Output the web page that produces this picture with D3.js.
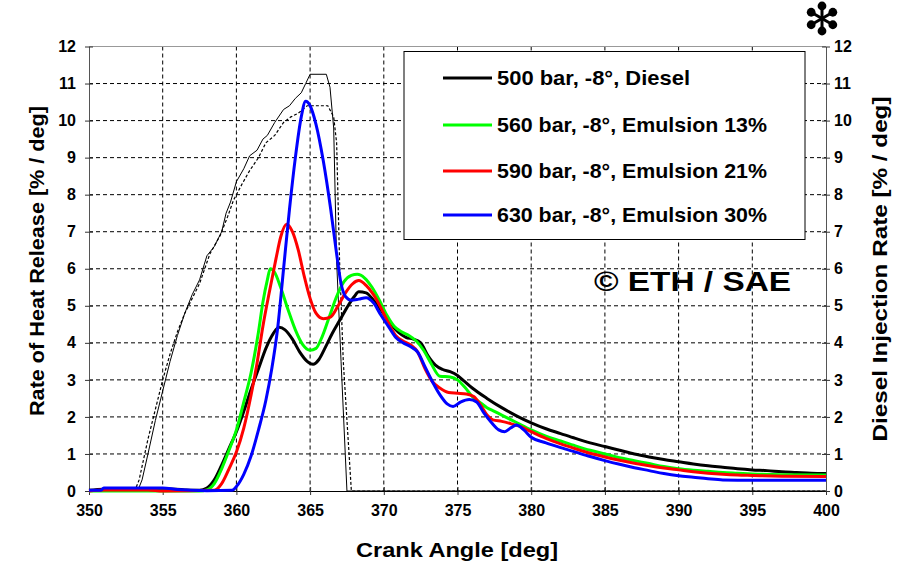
<!DOCTYPE html>
<html>
<head>
<meta charset="utf-8">
<script src="https://cdn.jsdelivr.net/npm/d3@7"></script>
<style>
  body { margin: 0; background: #fff; }
  svg { display: block; font-family: "Liberation Sans", Arial, sans-serif; font-weight: bold; }
</style>
</head>
<body>
<div id="chart"></div>
<script>
// x ticks and y ticks
const xTicks = [350, 355, 360, 365, 370, 375, 380, 385, 390, 395, 400];
const yTicks = [0, 1, 2, 3, 4, 5, 6, 7, 8, 9, 10, 11, 12];

// legend entries
const seriesNames = ["500 bar, -8°, Diesel", "560 bar, -8°, Emulsion 13%", "590 bar, -8°, Emulsion 21%", "630 bar, -8°, Emulsion 30%"];
const seriesColors = ["#000000", "#00ff00", "#ff0000", "#0000ff"];

// heat release rate [angle, % / deg]
const diesel = [[350,0.02],[351,0.05],[355,0.06],[356.5,0.03],[357.5,0.02],[358,0.08],[358.5,0.3],[359,0.7],[359.5,1.15],[360,1.6],[360.5,2.15],[361,2.75],[361.5,3.3],[362,3.85],[362.5,4.25],[362.9,4.42],[363.3,4.35],[363.8,4.1],[364.3,3.75],[364.8,3.5],[365.2,3.42],[365.6,3.55],[366,3.85],[366.5,4.25],[367,4.6],[367.5,4.95],[368,5.25],[368.3,5.38],[368.8,5.35],[369.3,5.15],[370,4.78],[370.5,4.5],[371,4.28],[371.5,4.15],[372,4.1],[372.5,4.0],[373,3.65],[373.5,3.4],[374,3.28],[374.5,3.22],[375,3.12],[375.5,2.95],[376,2.78],[377,2.5],[378,2.25],[379,2.03],[380,1.84],[381,1.68],[382,1.55],[383,1.42],[384,1.3],[385,1.2],[386,1.1],[387,1.0],[388,0.92],[389,0.85],[390,0.79],[391,0.73],[392,0.68],[393,0.64],[394,0.6],[395,0.57],[396,0.55],[397,0.52],[398,0.5],[399,0.48],[400,0.47]];

const emulsion13 = [[350,0],[357.5,0],[358,0.03],[358.5,0.2],[359,0.6],[359.5,1.1],[360,1.65],[360.5,2.4],[361,3.2],[361.5,4.3],[361.8,5.1],[362.1,5.7],[362.3,6.0],[362.6,5.9],[363,5.5],[363.5,4.9],[364,4.35],[364.5,3.95],[365,3.8],[365.4,3.85],[365.8,4.15],[366.3,4.7],[366.8,5.25],[367.3,5.65],[367.8,5.82],[368.2,5.85],[368.7,5.75],[369.2,5.5],[369.7,5.15],[370.2,4.75],[370.7,4.45],[371.2,4.3],[371.7,4.2],[372.2,4.05],[372.7,3.8],[373.2,3.45],[373.8,3.1],[374.5,3.08],[375,3.0],[375.5,2.8],[376,2.55],[376.5,2.4],[377,2.25],[377.5,2.15],[378,2.05],[379,1.85],[380,1.65],[381,1.48],[382,1.35],[383,1.22],[384,1.1],[385,1.0],[386,0.9],[387,0.82],[388,0.74],[389,0.66],[390,0.6],[391,0.56],[392,0.53],[393,0.5],[394,0.48],[395,0.46],[397,0.44],[400,0.43]];

const emulsion21 = [[350,0],[351,0.03],[354,0.03],[355,0],[358.5,0.02],[359,0.2],[359.5,0.6],[360,1.05],[360.5,1.7],[361,2.6],[361.4,3.45],[361.8,4.45],[362.3,5.5],[362.7,6.3],[363,6.85],[363.4,7.2],[363.8,7.0],[364.2,6.5],[364.6,5.8],[365,5.2],[365.4,4.8],[365.9,4.65],[366.4,4.7],[366.9,5.0],[367.4,5.35],[367.9,5.6],[368.3,5.68],[368.8,5.55],[369.3,5.3],[369.8,4.95],[370.3,4.55],[370.8,4.2],[371.3,4.05],[371.8,3.95],[372.3,3.75],[372.8,3.3],[373.3,2.95],[373.8,2.78],[374.4,2.66],[375,2.64],[375.6,2.62],[376.1,2.55],[376.6,2.3],[377,2.05],[377.4,1.92],[378,1.88],[378.6,1.82],[379.2,1.75],[380,1.6],[381,1.42],[382,1.27],[383,1.14],[384,1.02],[385,0.92],[386,0.83],[387,0.75],[388,0.68],[389,0.62],[390,0.57],[391,0.52],[392,0.48],[393,0.45],[394,0.43],[395,0.42],[397,0.4],[400,0.39]];

const emulsion30 = [[350,0.02],[350.8,0.02],[351,0.08],[355,0.08],[356,0.04],[358,0.01],[359.7,0.02],[360,0.12],[360.5,0.45],[361,0.95],[361.5,1.65],[362,2.45],[362.4,3.3],[362.8,4.4],[363.2,6.0],[363.6,7.6],[364,9.0],[364.4,10.1],[364.7,10.52],[365,10.4],[365.4,9.9],[365.9,8.9],[366.4,7.6],[366.8,6.4],[367.1,5.6],[367.4,5.25],[367.8,5.15],[368.3,5.18],[368.8,5.22],[369.3,5.08],[369.8,4.75],[370.3,4.45],[370.8,4.15],[371.3,4.0],[371.8,3.9],[372.3,3.75],[372.8,3.35],[373.3,2.95],[373.8,2.6],[374.3,2.35],[374.7,2.28],[375.2,2.4],[375.8,2.47],[376.3,2.4],[376.8,2.1],[377.3,1.85],[377.8,1.65],[378.2,1.6],[378.6,1.7],[379,1.78],[379.5,1.65],[380,1.45],[381,1.3],[382,1.17],[383,1.05],[384,0.93],[385,0.82],[386,0.72],[387,0.63],[388,0.55],[389,0.47],[390,0.41],[391,0.37],[392,0.33],[393,0.3],[395,0.29],[400,0.29]];

// injection rate [angle, % / deg] (right axis, same scale)
const injectionSolid = [[350,0],[353.3,0],[353.6,0.3],[354,1.0],[354.5,1.9],[355,2.7],[355.5,3.5],[356,4.2],[356.5,4.8],[357,5.3],[357.5,5.7],[358,6.35],[358.5,6.6],[359,7.0],[359.3,7.5],[359.6,7.8],[360,8.35],[360.5,8.7],[360.9,9.05],[361.4,9.2],[361.8,9.5],[362.1,9.6],[362.6,9.95],[363.2,10.3],[363.6,10.4],[364,10.6],[364.4,10.75],[364.7,11.0],[365,11.25],[366.1,11.25],[366.35,10.9],[366.6,9.8],[366.8,6.2],[367.1,3.5],[367.5,0],[400,0]];

const injectionDashed = [[350,0],[353.1,0],[353.4,0.3],[354,1.4],[354.5,2.2],[355,3.0],[355.5,3.7],[356,4.3],[356.5,4.8],[357,5.2],[357.5,5.6],[358.2,6.4],[358.9,6.9],[359.4,7.4],[359.8,7.85],[360.4,8.3],[360.9,8.65],[361.5,9.0],[362,9.4],[362.6,9.6],[363.2,9.95],[363.7,10.1],[364.2,10.2],[364.8,10.4],[366.2,10.4],[366.6,10.1],[366.8,9.4],[367.0,6.2],[367.25,3.5],[367.8,0],[400,0]];

const seriesData = [diesel, emulsion13, emulsion21, emulsion30];

const width = 906, height = 566;
const plotLeft = 89, plotRight = 826, plotTop = 46.5, plotBottom = 491;

const svg = d3.select("#chart").append("svg")
  .attr("width", width)
  .attr("height", height);

const x = d3.scaleLinear().domain([350, 400]).range([plotLeft, plotRight]);
const y = d3.scaleLinear().domain([0, 12]).range([plotBottom, plotTop]);

// grid
svg.append("g")
  .selectAll("line")
  .data(xTicks.slice(1, -1))
  .enter().append("line")
    .attr("x1", d => x(d)).attr("x2", d => x(d))
    .attr("y1", plotTop).attr("y2", plotBottom)
    .attr("stroke", "#000").attr("stroke-width", 1)
    .attr("stroke-dasharray", "4,3");
svg.append("g")
  .selectAll("line")
  .data(yTicks.slice(1, -1))
  .enter().append("line")
    .attr("x1", plotLeft).attr("x2", plotRight)
    .attr("y1", d => y(d)).attr("y2", d => y(d))
    .attr("stroke", "#000").attr("stroke-width", 1)
    .attr("stroke-dasharray", "4,3");

// top border
svg.append("line")
  .attr("x1", plotLeft).attr("x2", plotRight)
  .attr("y1", plotTop).attr("y2", plotTop)
  .attr("stroke", "#999");

// axes
const xAxis = svg.append("g")
  .attr("transform", "translate(0," + plotBottom + ")")
  .call(d3.axisBottom(x).tickValues(xTicks).tickSize(4).tickSizeOuter(0));
xAxis.selectAll(".tick line").attr("y1", -4);
xAxis.selectAll("text").attr("y", 14).attr("dy", "0.71em");

const yAxisL = svg.append("g")
  .attr("transform", "translate(" + plotLeft + ",0)")
  .call(d3.axisLeft(y).tickValues(yTicks).tickSize(4).tickSizeOuter(0));
yAxisL.selectAll(".tick line").attr("x1", 4);
yAxisL.selectAll("text").attr("x", -13);

const yAxisR = svg.append("g")
  .attr("transform", "translate(" + plotRight + ",0)")
  .call(d3.axisRight(y).tickValues(yTicks).tickSize(4).tickSizeOuter(0));
yAxisR.selectAll(".tick line").attr("x1", -4);
yAxisR.selectAll("text").attr("x", 8);

svg.selectAll(".tick text")
  .attr("font-family", "Liberation Sans, Arial, sans-serif")
  .attr("font-weight", "bold")
  .attr("font-size", 16)
  .attr("fill", "#000");
yAxisL.select(".domain").attr("stroke", "#555");
yAxisR.select(".domain").attr("stroke", "#555");
svg.selectAll(".tick line").attr("stroke", "#333");

// curves
const line = d3.line()
  .x(d => x(d[0]))
  .y(d => y(d[1]));

svg.append("path")
  .datum(injectionSolid)
  .attr("fill", "none")
  .attr("stroke", "#000")
  .attr("stroke-width", 1)
  .attr("d", line);
svg.append("path")
  .datum(injectionDashed)
  .attr("fill", "none")
  .attr("stroke", "#000")
  .attr("stroke-width", 1.2)
  .attr("stroke-dasharray", "3,2")
  .attr("d", line);

const curveLine = d3.line()
  .x(d => x(d[0]))
  .y(d => y(d[1]))
  .curve(d3.curveMonotoneX);

svg.append("g")
  .selectAll("path")
  .data(seriesData)
  .enter().append("path")
    .attr("fill", "none")
    .attr("stroke", (d, i) => seriesColors[i])
    .attr("stroke-width", 3)
    .attr("stroke-linejoin", "round")
    .attr("d", curveLine);

// legend
svg.append("rect")
  .attr("x", 404).attr("y", 51.5)
  .attr("width", 401).attr("height", 188)
  .attr("fill", "#fff")
  .attr("stroke", "#000")
  .attr("stroke-width", 1);

const legendRows = [78, 125, 171, 215];
const legendWidths = [193, 270, 270, 270];
const legend = svg.append("g")
  .selectAll("g")
  .data(seriesNames)
  .enter().append("g")
    .attr("transform", (d, i) => "translate(0," + legendRows[i] + ")");
legend.append("line")
  .attr("x1", 443).attr("x2", 492)
  .attr("stroke", (d, i) => seriesColors[i])
  .attr("stroke-width", 3);
legend.append("text")
  .attr("x", 497)
  .attr("dy", "0.36em")
  .attr("font-size", 20.5)
  .attr("textLength", (d, i) => legendWidths[i])
  .attr("lengthAdjust", "spacingAndGlyphs")
  .text(d => d);

// copyright note
svg.append("text")
  .attr("x", 594).attr("y", 291)
  .attr("font-size", 28)
  .attr("textLength", 197)
  .attr("lengthAdjust", "spacingAndGlyphs")
  .text("© ETH / SAE");

// axis titles
svg.append("text")
  .attr("x", 457).attr("y", 557)
  .attr("text-anchor", "middle")
  .attr("font-size", 21)
  .attr("textLength", 202)
  .attr("lengthAdjust", "spacingAndGlyphs")
  .text("Crank Angle [deg]");

svg.append("text")
  .attr("transform", "translate(44,261) rotate(-90)")
  .attr("text-anchor", "middle")
  .attr("font-size", 21)
  .attr("textLength", 310)
  .attr("lengthAdjust", "spacingAndGlyphs")
  .text("Rate of Heat Release [% / deg]");

svg.append("text")
  .attr("transform", "translate(887,269) rotate(-90)")
  .attr("text-anchor", "middle")
  .attr("font-size", 21)
  .attr("textLength", 345)
  .attr("lengthAdjust", "spacingAndGlyphs")
  .text("Diesel Injection Rate [% / deg]");

// asterisk mark, top right
const star = svg.append("g").attr("transform", "translate(822,18.5)");
const arms = [90, 30, 150, 210, 270, 330];
star.selectAll("line")
  .data(arms)
  .enter().append("line")
    .attr("x1", 0).attr("y1", 0)
    .attr("x2", d => 12.5 * Math.cos(d * Math.PI / 180))
    .attr("y2", d => -12.5 * Math.sin(d * Math.PI / 180))
    .attr("stroke", "#000")
    .attr("stroke-width", 3);
star.selectAll("circle")
  .data(arms)
  .enter().append("circle")
    .attr("cx", d => 12.5 * Math.cos(d * Math.PI / 180))
    .attr("cy", d => -12.5 * Math.sin(d * Math.PI / 180))
    .attr("r", 4.4)
    .attr("fill", "#000");
</script>
</body>
</html>
